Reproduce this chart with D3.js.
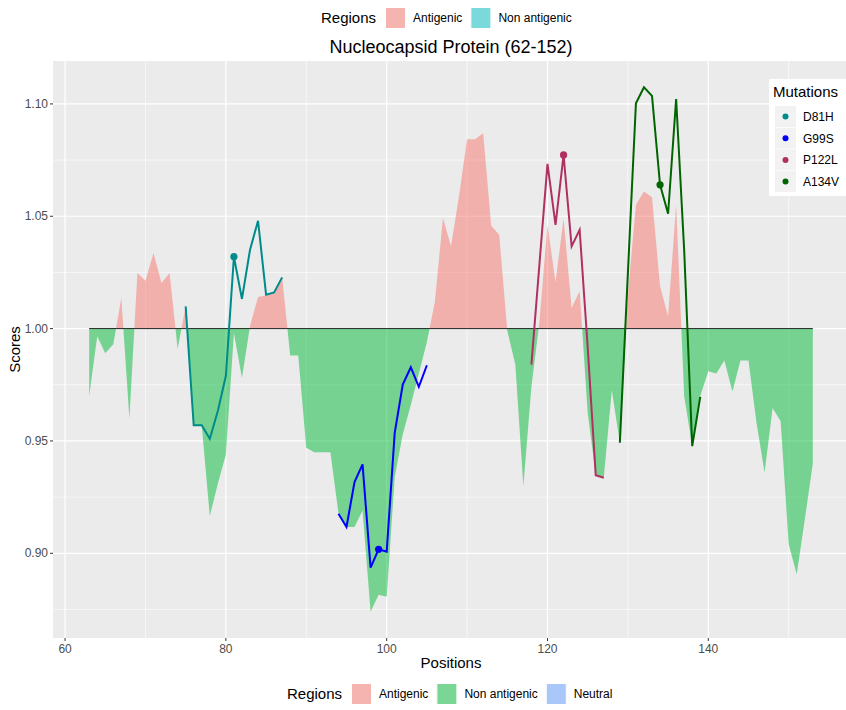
<!DOCTYPE html>
<html>
<head>
<meta charset="utf-8">
<script src="https://cdn.jsdelivr.net/npm/d3@7"></script>
<style>
  body { margin: 0; background: #fff; }
  text { font-family: "Liberation Sans", Arial, sans-serif; }
</style>
</head>
<body>
<svg id="chart" width="846" height="710"></svg>
<script>
// scores per position 63..153
var startPos = 63;
var scores = [
  0.970, 0.9966, 0.989, 0.993, 1.0136, 0.960, 1.0247, 1.0213, 1.0336, 1.0203,
  1.0247, 0.991, 1.0099, 0.957, 0.957, 0.9166, 0.931, 0.944, 0.998, 0.978,
  1.001, 1.0141, 1.0147, 1.016, 1.0228, 0.988, 0.988, 0.947, 0.945, 0.945,
  0.945, 0.918, 0.9117, 0.9117, 0.919, 0.874, 0.8815, 0.8807, 0.934, 0.953,
  0.966, 0.980, 0.994, 1.012, 1.0492, 1.0366, 1.059, 1.0843, 1.0843, 1.087,
  1.0458, 1.0418, 0.999, 0.984, 0.930, 0.974, 1.003, 1.0462, 1.0206, 1.049,
  1.0092, 1.0166, 0.9625, 0.935, 0.9336, 0.9726, 0.9492, 1.015, 1.0551, 1.061,
  1.0585, 1.0188, 1.0055, 1.0551, 0.970, 0.9477, 0.970, 0.981, 0.980, 0.9858,
  0.972, 0.9858, 0.9858, 0.958, 0.936, 0.9647, 0.9588, 0.904, 0.8907, 0.915,
  0.940
];

var mutNames = ['D81H', 'G99S', 'P122L', 'A134V'];
var mutColors = ['#008B8B', '#0000FF', '#B03060', '#006400'];
var mutSite = [81, 99, 122, 134];
var mutStart = [75, 94, 118, 129];
var mutScores = [
  [1.0099, 0.957, 0.957, 0.951, 0.9633, 0.979, 1.032, 1.0132, 1.035, 1.048, 1.0151, 1.0161, 1.0228],
  [0.9176, 0.9117, 0.9317, 0.9396, 0.8936, 0.9018, 0.9007, 0.9536, 0.9751, 0.9828, 0.9741, 0.9837],
  [0.984, 1.0287, 1.0733, 1.0462, 1.0773, 1.0366, 1.044, 0.9917, 0.9347, 0.9336],
  [0.9492, 1.0247, 1.1003, 1.1074, 1.1036, 1.064, 1.0511, 1.1022, 1.035, 0.9477, 0.9696]
];

var xTicks = [60, 80, 100, 120, 140];
var xMinor = [70, 90, 110, 130, 150];
var yTicks = [0.90, 0.95, 1.00, 1.05, 1.10];
var yMinor = [0.875, 0.925, 0.975, 1.025, 1.075];

var regionNames = ['Antigenic', 'Non antigenic', 'Neutral'];
var regionFill = ['rgba(248,118,109,0.5)', 'rgba(0,186,56,0.5)', 'rgba(97,156,255,0.5)'];
var topRegionNames = ['Antigenic', 'Non antigenic'];
var topRegionFill = ['rgba(248,118,109,0.5)', 'rgba(0,191,196,0.5)'];

var svg = d3.select('#chart');
// panel runs a little past the right edge of the picture
var panelL = 53, panelR = 849, panelT = 61, panelB = 638;

var x = d3.scaleLinear().domain([58.5, 157.5]).range([panelL, panelR]);
var y = d3.scaleLinear().domain([0.8623, 1.1191]).range([panelB, panelT]);

svg.append('defs').append('clipPath').attr('id', 'clip')
  .append('rect').attr('x', panelL).attr('y', panelT).attr('width', panelR - panelL).attr('height', panelB - panelT);

svg.append('rect').attr('x', panelL).attr('y', panelT).attr('width', panelR - panelL).attr('height', panelB - panelT)
  .attr('fill', '#EBEBEB');

// grid
var grid = svg.append('g');
xMinor.forEach(function(d){
  grid.append('line').attr('x1', x(d)).attr('x2', x(d)).attr('y1', panelT).attr('y2', panelB)
    .attr('stroke', '#fff').attr('stroke-width', 0.6);
});
yMinor.forEach(function(d){
  grid.append('line').attr('x1', panelL).attr('x2', panelR).attr('y1', y(d)).attr('y2', y(d))
    .attr('stroke', '#fff').attr('stroke-width', 0.6);
});
xTicks.forEach(function(d){
  grid.append('line').attr('x1', x(d)).attr('x2', x(d)).attr('y1', panelT).attr('y2', panelB)
    .attr('stroke', '#fff').attr('stroke-width', 1.2);
});
yTicks.forEach(function(d){
  grid.append('line').attr('x1', panelL).attr('x2', panelR).attr('y1', y(d)).attr('y2', y(d))
    .attr('stroke', '#fff').attr('stroke-width', 1.2);
});

// build points with baseline crossings
var pts = [];
scores.forEach(function(v, i){
  var p = startPos + i;
  if (i > 0) {
    var pv = scores[i - 1];
    if ((pv - 1) * (v - 1) < 0) {
      var t = (1 - pv) / (v - pv);
      pts.push({pos: p - 1 + t, v: 1});
    }
  }
  pts.push({pos: p, v: v});
});

var plot = svg.append('g').attr('clip-path', 'url(#clip)');

var areaUp = d3.area().x(function(d){ return x(d.pos); })
  .y0(y(1)).y1(function(d){ return y(Math.max(d.v, 1)); });
var areaDown = d3.area().x(function(d){ return x(d.pos); })
  .y0(y(1)).y1(function(d){ return y(Math.min(d.v, 1)); });

plot.append('path').datum(pts).attr('d', areaUp).attr('fill', regionFill[0]);
plot.append('path').datum(pts).attr('d', areaDown).attr('fill', regionFill[1]);

plot.append('line').attr('x1', x(startPos)).attr('x2', x(startPos + scores.length - 1))
  .attr('y1', y(1)).attr('y2', y(1)).attr('stroke', '#222').attr('stroke-width', 1);

var line = d3.line().x(function(d){ return x(d.pos); }).y(function(d){ return y(d.v); });
mutScores.forEach(function(arr, k){
  var data = arr.map(function(v, i){ return {pos: mutStart[k] + i, v: v}; });
  plot.append('path').datum(data).attr('d', line).attr('fill', 'none')
    .attr('stroke', mutColors[k]).attr('stroke-width', 2);
  var site = data[mutSite[k] - mutStart[k]];
  plot.append('circle').attr('cx', x(site.pos)).attr('cy', y(site.v)).attr('r', 3.6)
    .attr('fill', mutColors[k]);
});

// axes
var axisG = svg.append('g');
xTicks.forEach(function(d){
  axisG.append('line').attr('x1', x(d)).attr('x2', x(d)).attr('y1', panelB).attr('y2', panelB + 3)
    .attr('stroke', '#333');
  axisG.append('text').attr('x', x(d)).attr('y', panelB + 15).attr('text-anchor', 'middle')
    .attr('font-size', 12).attr('fill', '#4D4D4D').text(d);
});
yTicks.forEach(function(d){
  axisG.append('line').attr('x1', panelL - 3).attr('x2', panelL).attr('y1', y(d)).attr('y2', y(d))
    .attr('stroke', '#333');
  axisG.append('text').attr('x', panelL - 5).attr('y', y(d) + 4).attr('text-anchor', 'end')
    .attr('font-size', 12).attr('fill', '#4D4D4D').text(d3.format('.2f')(d));
});

svg.append('text').attr('x', (panelL + panelR) / 2).attr('y', 668).attr('text-anchor', 'middle')
  .attr('font-size', 15).attr('fill', '#000').text('Positions');
svg.append('text').attr('transform', 'translate(20,' + ((panelT + panelB) / 2) + ') rotate(-90)')
  .attr('text-anchor', 'middle').attr('font-size', 15).attr('fill', '#000').text('Scores');
svg.append('text').attr('x', (panelL + panelR) / 2).attr('y', 53).attr('text-anchor', 'middle')
  .attr('font-size', 18).attr('fill', '#000').text('Nucleocapsid Protein (62-152)');

// region legends
function regionLegend(yc, names, fills, titleX) {
  var g = svg.append('g');
  g.append('text').attr('x', titleX).attr('y', yc + 5).attr('font-size', 15).text('Regions');
  var cx = titleX + 64;
  names.forEach(function(n, i){
    g.append('rect').attr('x', cx).attr('y', yc - 11).attr('width', 21).attr('height', 22)
      .attr('fill', '#F2F2F2');
    g.append('rect').attr('x', cx + 0.5).attr('y', yc - 10.5).attr('width', 20).attr('height', 21)
      .attr('fill', fills[i]).attr('stroke', '#fff').attr('stroke-width', 1);
    var t = g.append('text').attr('x', cx + 28).attr('y', yc + 4).attr('font-size', 12).text(n);
    cx += 28 + t.node().getComputedTextLength() + 8;
  });
}
regionLegend(18, topRegionNames, topRegionFill, 321);
regionLegend(694, regionNames, regionFill, 287);

// mutations legend
var mg = svg.append('g');
mg.append('rect').attr('x', 769).attr('y', 79).attr('width', 80).attr('height', 117).attr('fill', '#fff');
mg.append('text').attr('x', 773).attr('y', 97).attr('font-size', 15).text('Mutations');
mutNames.forEach(function(n, i){
  var cy = 116.5 + i * 21.7;
  mg.append('rect').attr('x', 775).attr('y', cy - 10.5).attr('width', 21).attr('height', 21).attr('fill', '#F2F2F2');
  mg.append('circle').attr('cx', 785.5).attr('cy', cy).attr('r', 3).attr('fill', mutColors[i]);
  mg.append('text').attr('x', 803).attr('y', cy + 4.5).attr('font-size', 12).text(n);
});
</script>
</body>
</html>
